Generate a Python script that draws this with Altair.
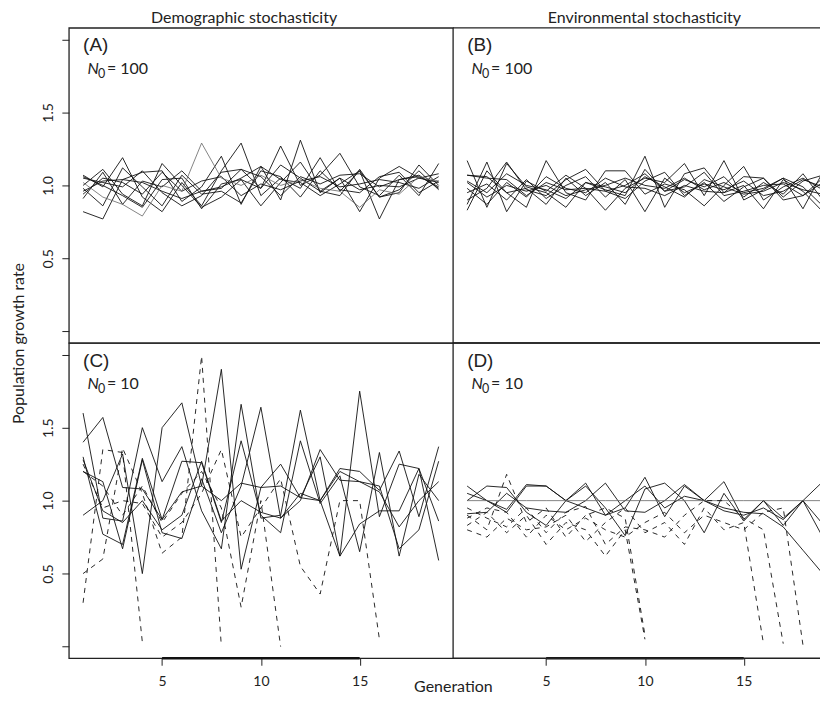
import altair as alt
import pandas as pd

generations = list(range(1, 20))

# ---------- Panel A: demographic stochasticity, N0 = 100 ----------
A_solid = [
    [1.07, 0.99, 1.19, 0.92, 0.82, 1.02, 0.86, 1.10, 1.29, 0.93, 1.05, 0.98, 1.19, 0.96, 1.10, 0.77, 1.04, 1.07, 0.98],
    [0.82, 0.77, 1.04, 1.09, 1.10, 0.89, 0.99, 1.20, 0.87, 1.13, 0.90, 1.31, 0.95, 1.05, 0.82, 1.05, 1.13, 1.05, 1.02],
    [1.00, 1.11, 0.94, 0.86, 1.15, 1.00, 0.85, 0.92, 1.04, 0.98, 1.27, 1.00, 1.07, 1.22, 0.99, 0.93, 1.07, 0.93, 1.15],
    [0.91, 1.09, 0.87, 1.03, 0.99, 1.10, 0.96, 0.99, 1.05, 1.13, 1.04, 1.02, 0.93, 1.01, 1.10, 0.92, 0.95, 1.14, 1.00],
    [1.05, 1.02, 0.99, 1.10, 0.95, 0.86, 0.93, 1.09, 1.11, 0.98, 1.14, 1.05, 0.96, 1.05, 0.97, 1.00, 0.99, 1.05, 1.08],
    [0.96, 1.03, 1.04, 1.02, 0.96, 0.91, 0.96, 0.98, 1.11, 1.06, 0.93, 1.06, 1.01, 1.07, 1.08, 0.99, 1.04, 1.06, 0.99],
    [0.98, 0.86, 1.12, 0.99, 0.86, 1.07, 0.94, 0.96, 0.88, 1.10, 1.06, 0.92, 1.10, 0.97, 0.95, 1.06, 1.09, 0.95, 1.03],
    [1.06, 1.00, 0.93, 0.85, 1.04, 1.05, 0.84, 1.01, 1.04, 0.86, 1.02, 1.16, 0.96, 0.93, 1.11, 0.92, 0.97, 1.10, 0.97],
    [0.94, 1.05, 1.02, 0.94, 1.09, 0.96, 1.03, 1.06, 0.93, 1.01, 0.97, 1.03, 1.06, 0.99, 1.01, 1.04, 1.02, 0.98, 1.06],
]
A_gray = [
    [1.02, 0.92, 0.87, 0.79, 1.00, 0.96, 1.29, 1.05, 1.00, 1.07, 1.00, 1.04, 0.98, 0.96, 0.85, 0.97, 0.94, 1.06, 1.03],
]

# ---------- Panel B: environmental stochasticity, N0 = 100 ----------
B_solid = [
    [1.17, 0.85, 1.15, 0.99, 0.95, 0.85, 1.02, 0.97, 0.93, 1.20, 0.85, 1.08, 1.12, 0.95, 1.00, 0.84, 1.04, 0.96, 0.82],
    [0.87, 1.16, 0.82, 1.03, 0.96, 1.07, 0.98, 0.83, 0.98, 1.05, 1.02, 1.15, 0.93, 1.17, 0.90, 0.97, 1.05, 0.84, 1.09],
    [1.07, 1.06, 0.95, 0.85, 1.17, 0.95, 0.90, 1.10, 1.10, 0.94, 1.01, 0.97, 0.86, 1.00, 1.13, 0.90, 0.99, 1.05, 0.97],
    [0.90, 0.98, 1.16, 0.97, 0.93, 1.04, 1.11, 0.96, 0.91, 1.03, 1.09, 0.93, 1.02, 0.89, 0.99, 1.05, 0.92, 1.03, 1.07],
    [1.07, 1.05, 1.04, 0.93, 1.02, 0.97, 0.98, 0.96, 1.00, 1.08, 0.96, 0.99, 1.09, 0.93, 0.96, 1.00, 1.01, 0.93, 1.05],
    [0.83, 1.10, 0.95, 0.98, 0.87, 1.05, 0.93, 1.02, 0.87, 1.11, 0.96, 1.04, 0.99, 1.06, 0.92, 1.02, 0.94, 1.08, 0.90],
    [1.02, 0.92, 1.00, 0.96, 1.00, 0.93, 0.97, 1.00, 1.05, 1.00, 0.98, 1.05, 0.97, 1.02, 0.95, 0.98, 1.05, 0.99, 0.86],
    [0.95, 1.01, 0.90, 1.04, 0.91, 1.00, 1.06, 0.92, 1.04, 0.82, 1.05, 0.95, 1.01, 0.97, 1.03, 0.93, 0.96, 1.04, 0.99],
    [0.98, 0.87, 1.02, 0.92, 1.06, 0.98, 0.95, 1.05, 0.99, 0.98, 0.93, 1.00, 0.96, 0.95, 1.06, 1.05, 0.90, 0.93, 1.02],
    [1.03, 0.95, 1.08, 1.00, 0.97, 0.91, 1.02, 0.99, 0.95, 1.06, 0.99, 0.92, 1.04, 0.99, 0.94, 0.96, 1.02, 0.97, 0.94],
]

# ---------- Panel C: demographic stochasticity, N0 = 10 ----------
C_solid = [
    [1.40, 1.57, 1.09, 1.08, 0.87, 1.06, 1.10, 1.90, 0.53, 1.09, 1.25, 1.02, 1.00, 1.22, 1.20, 1.07, 1.34, 0.89, 1.37],
    [1.60, 0.88, 0.86, 1.50, 1.13, 1.37, 0.93, 0.67, 1.66, 0.88, 0.90, 1.62, 1.00, 0.62, 1.75, 0.89, 1.25, 1.22, 0.59],
    [1.30, 0.77, 0.70, 1.29, 0.87, 1.27, 1.26, 0.85, 1.41, 0.90, 0.78, 1.41, 0.98, 1.17, 0.65, 1.33, 0.62, 1.18, 1.00],
    [1.20, 1.13, 0.67, 1.28, 0.78, 0.74, 1.15, 0.78, 1.10, 1.64, 0.88, 1.00, 1.35, 1.14, 1.13, 1.06, 0.82, 1.00, 1.13],
    [0.90, 1.00, 1.32, 0.50, 1.50, 1.67, 1.10, 1.00, 1.12, 1.09, 1.10, 1.02, 1.30, 0.62, 0.84, 0.93, 0.93, 1.22, 0.86],
    [1.28, 0.93, 0.85, 1.00, 0.80, 0.90, 1.27, 0.86, 1.00, 0.92, 0.88, 1.05, 1.00, 1.20, 1.13, 1.10, 0.67, 0.80, 1.27],
]
C_dashed = [
    [0.30, 1.35, 1.33, 0.03],
    [0.50, 0.60, 1.36, 1.05, 0.64, 0.75, 1.99, 0.00],
    [1.20, 1.10, 0.90, 1.10, 0.85, 1.05, 1.20, 0.95, 0.27, 1.00, 0.00],
    [1.25, 0.95, 1.00, 0.98, 0.75, 0.85, 1.05, 1.35, 0.75, 0.95, 1.15, 0.55, 0.36, 1.00, 1.00, 0.05],
]

# ---------- Panel D: environmental stochasticity, N0 = 10 ----------
D_solid = [
    [1.10, 1.00, 0.92, 1.10, 1.10, 1.00, 1.12, 0.90, 0.95, 1.16, 0.89, 1.10, 1.00, 1.13, 0.87, 1.00, 0.83, 1.00, 1.13],
    [1.00, 1.10, 1.09, 0.92, 0.83, 1.00, 1.10, 0.95, 0.76, 1.08, 1.12, 1.00, 0.78, 1.05, 0.86, 1.00, 0.88, 1.00, 0.84],
    [0.91, 0.92, 1.05, 0.95, 0.93, 0.92, 1.00, 1.12, 0.93, 0.92, 1.00, 1.11, 1.00, 0.93, 0.90, 0.95, 0.87, 1.00, 0.75],
    [1.05, 1.00, 0.94, 1.11, 1.10, 1.00, 0.95, 0.90, 1.00, 1.10, 0.95, 1.03, 1.00, 0.95, 0.92, 0.91, 0.82, 0.66, 0.50],
]
D_gray = [
    [1.00] * 19,
]
D_dashed = [
    [0.83, 0.92, 0.78, 0.90, 0.70, 0.85, 0.80, 0.62, 0.80, 0.05],
    [0.90, 0.80, 1.18, 0.85, 0.95, 0.75, 0.90, 0.95, 0.88, 0.08],
    [0.80, 0.75, 0.88, 0.80, 0.82, 0.90, 0.72, 0.85, 0.95, 0.78, 0.85, 0.70, 0.95, 0.80, 0.85, 0.02],
    [0.95, 0.88, 0.82, 0.95, 0.78, 0.92, 0.96, 0.70, 0.82, 0.80, 0.75, 0.90, 1.00, 1.00, 0.88, 0.80, 0.02],
    [0.88, 0.95, 0.92, 0.75, 0.90, 0.80, 0.88, 0.80, 0.75, 0.85, 0.92, 0.78, 0.90, 0.85, 0.80, 0.92, 0.95, 0.01],
]

panel_letters = ["(A)", "(B)", "(C)", "(D)"]
n0_texts = ["= 100", "= 100", "= 10", "= 10"]
column_titles = ["Demographic stochasticity", "Environmental stochasticity"]
x_tick_values = [5, 10, 15]
y_tick_values = [0, 0.5, 1.0, 1.5, 2.0]
y_title = "Population growth rate"
x_title = "Generation"

rows = []
def add(panel, kind, series_list):
    for i, vals in enumerate(series_list):
        for g, v in zip(generations, vals):
            rows.append({"panel": panel, "kind": kind, "series": f"{panel}{kind}{i}", "gen": g, "value": v})

add("A", "solid", A_solid); add("A", "gray", A_gray)
add("B", "solid", B_solid)
add("C", "solid", C_solid); add("C", "dashed", C_dashed)
add("D", "solid", D_solid); add("D", "gray", D_gray); add("D", "dashed", D_dashed)
df = pd.DataFrame(rows)

FONT = "Lato"
INK = "#222"
WL = 385
WR = 374
H = 316
YDOM = [-0.08, 2.08]
XDOM_L = [0.28, 19.72]
XDOM_R = [0.28, 0.28 + WR * (XDOM_L[1] - XDOM_L[0]) / WL]


def make_panel(idx, panel, left, bottom, title=None, title_gen=10.0):
    d = df[df.panel == panel]
    width = WL if left else WR
    xdom = XDOM_L if left else XDOM_R
    xs = alt.Scale(domain=xdom, nice=False, zero=False)
    ys = alt.Scale(domain=YDOM, nice=False, zero=False)
    if bottom:
        xaxis = alt.Axis(values=x_tick_values, format="d", tickSize=7, tickColor=INK,
                         labelPadding=20, labelBaseline="alphabetic", labelFlush=False,
                         title=x_title if panel == "C" else None,
                         titleX=width, titleY=33, titleBaseline="alphabetic", titleAlign="center")
    else:
        xaxis = None
    if left:
        yaxis = alt.Axis(values=y_tick_values, tickSize=7, tickColor=INK,
                         labelExpr="datum.value == 0 || datum.value == 2 ? '' : format(datum.value, '.1f')",
                         labelAngle=270, labelAlign="center", labelBaseline="alphabetic",
                         labelPadding=9.5, labelFlush=False,
                         title=y_title if panel == "A" else None,
                         titleAngle=270, titleX=-50, titleY=H, titleAlign="center",
                         titleBaseline="middle")
    else:
        yaxis = None

    X = lambda f="gen": alt.X(f"{f}:Q", scale=xs, axis=xaxis)
    Y = lambda f="value": alt.Y(f"{f}:Q", scale=ys, axis=yaxis)

    base = alt.Chart(d)
    layers = []
    layers.append(base.transform_filter(alt.datum.kind == "solid").mark_line(
        color="#111", strokeWidth=0.9).encode(x=X(), y=Y(), detail="series:N"))
    if (d.kind == "gray").any():
        layers.append(base.transform_filter(alt.datum.kind == "gray").mark_line(
            color="#666", strokeWidth=0.8).encode(x=X(), y=Y(), detail="series:N"))
    if (d.kind == "dashed").any():
        layers.append(base.transform_filter(alt.datum.kind == "dashed").mark_line(
            color="#111", strokeWidth=0.9, strokeDash=[5, 5]).encode(x=X(), y=Y(), detail="series:N"))

    # panel letter
    lab = pd.DataFrame({"gen": [1.0], "value": [1.96], "text": [panel_letters[idx]]})
    layers.append(alt.Chart(lab).mark_text(align="left", baseline="middle", font="Liberation Sans",
                                           fontSize=19, color=INK).encode(
        x=X(), y=Y(), text="text:N"))
    # N0 label
    n0 = pd.DataFrame({"gen": [1.0], "value": [1.80], "N": ["N"], "sub": ["0"], "rest": [n0_texts[idx]]})
    nb = alt.Chart(n0)
    layers.append(nb.mark_text(align="left", baseline="middle", font=FONT, fontSize=16,
                               fontStyle="italic", color=INK, dx=4.5).encode(
        x=X(), y=Y(), text="N:N"))
    layers.append(nb.mark_text(align="left", baseline="middle", font=FONT, fontSize=12.5,
                               color=INK, dx=15, dy=5).encode(
        x=X(), y=Y(), text="sub:N"))
    layers.append(nb.mark_text(align="left", baseline="middle", font=FONT, fontSize=16,
                               color=INK, dx=24).encode(
        x=X(), y=Y(), text="rest:N"))

    # column title above the top panels
    if title:
        tt = pd.DataFrame({"gen": [title_gen], "value": [2.111], "text": [title]})
        layers.append(alt.Chart(tt).mark_text(align="center", baseline="alphabetic", font=FONT,
                                              fontSize=16, color=INK).encode(
            x=X(), y=Y(), text="text:N"))

    # thick axis segment between the outer ticks
    if bottom:
        seg = pd.DataFrame({"x": [5], "x2": [15], "y": [YDOM[0]]})
        layers.append(alt.Chart(seg).mark_rule(color="#111", strokeWidth=2.5).encode(
            x=X("x"), x2="x2:Q", y=Y("y")))

    # frame of the right panels (their right edge lies beyond the picture)
    if not left:
        fr = pd.DataFrame({"x": [xdom[0], xdom[0]], "x2": [xdom[1], xdom[1]], "y": [YDOM[0], YDOM[1]]})
        layers.append(alt.Chart(fr).mark_rule(color=INK, strokeWidth=1.3).encode(
            x=X("x"), x2="x2:Q", y=Y("y")))

    props = dict(width=width, height=H)
    if not left:
        props["view"] = alt.ViewBackground(stroke="transparent")
    return alt.layer(*layers).properties(**props)


pA = make_panel(0, "A", True, False, column_titles[0], 9.15)
pB = make_panel(1, "B", False, False, column_titles[1], 9.97)
pC = make_panel(2, "C", True, True)
pD = make_panel(3, "D", False, True)

chart = alt.concat(pA, pB, pC, pD, columns=2, spacing=0, bounds="flush").properties(
    padding={"left": 2, "top": 0, "right": -8, "bottom": 0}
).configure_view(stroke=INK, strokeWidth=1.3).configure_axis(
    labelFont=FONT, labelFontSize=14, labelColor=INK,
    titleFont=FONT, titleFontSize=16, titleFontWeight="normal", titleColor=INK,
    grid=False, domain=False
)

chart.save("out.html", embed_options={"renderer": "svg", "actions": False})
